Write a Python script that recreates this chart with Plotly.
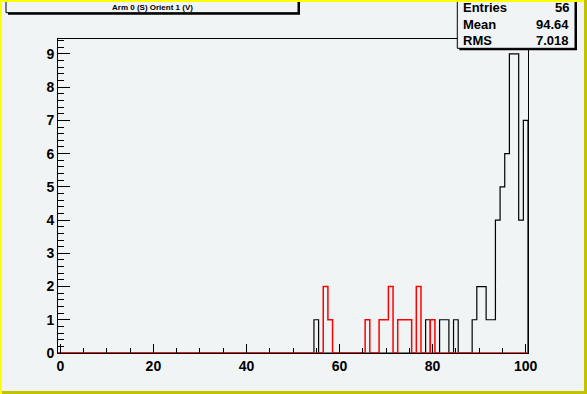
import plotly.graph_objects as go

# ---- data (bin centres are integers 0..100, bin width 1) ----
black_bins = [55, 79, 82, 83, 85, 89, 90, 91, 92, 93, 94, 95, 96, 97, 98, 99, 100]
black_counts = [1, 1, 1, 1, 1, 1, 2, 2, 1, 1, 4, 5, 6, 9, 9, 4, 7]
red_bins = [57, 58, 66, 69, 70, 71, 73, 74, 75, 77, 80]
red_counts = [2, 1, 1, 1, 1, 2, 1, 1, 1, 2, 1]
x_ticks = [0, 20, 40, 60, 80, 100]
y_ticks = [0, 1, 2, 3, 4, 5, 6, 7, 8, 9]
title_text = "Arm 0 (S) Orient 1 (V)"
stats_labels = ["Entries", "Mean", "RMS"]
stats_values = ["56", "94.64", "7.018"]

NB = 101
XMIN, XMAX = -0.5, 100.5
YMAX = 9.45


def step_xy(bins, counts):
    full = [0] * NB
    for b, c in zip(bins, counts):
        full[b] = c
    xs = [XMIN + i for i in range(NB + 1)]
    ys = full + [0]
    return xs, ys


W, H = 587, 394
L, R, T, B = 58, 59, 39, 41
pw, ph = W - L - R, H - T - B
BG = "#f0f4f5"
FONT = "Liberation Sans"


def px(xp):
    return (xp - L) / pw


def py(yp):
    return (H - B - yp) / ph


fig = go.Figure()
bx, by = step_xy(black_bins, black_counts)
rx, ry = step_xy(red_bins, red_counts)
fig.add_trace(go.Scatter(x=bx, y=by, mode="lines", line=dict(shape="hv", color="black", width=1.2),
                         hoverinfo="skip", showlegend=False))
fig.add_trace(go.Scatter(x=rx, y=ry, mode="lines", line=dict(shape="hv", color="#ff0000", width=1.5),
                         hoverinfo="skip", showlegend=False))

shapes = []


def rect(x0, y0, x1, y1, fill, line_color=None, lw=0):
    shapes.append(dict(type="rect", xref="paper", yref="paper",
                       x0=px(x0), x1=px(x1), y0=py(y1), y1=py(y0),
                       fillcolor=fill, layer="above",
                       line=dict(color=line_color or fill, width=lw)))


# title box with shadow
rect(8, -2, 300, 14.7, "black")
rect(6, -4, 298, 12.7, BG, "black", 1)
# stats box with shadow
rect(459.3, -2, 577, 50.3, "black")
rect(457.3, -4, 575, 48.3, BG, "black", 1)
# canvas bevel border
rect(0, 0, 2, H, "#ffff00")
rect(0, 0, W, 2, "#ffff00")
rect(W - 3, 0, W, H, "#c2c200")
rect(2, H - 3, W, H, "#c2c200")

annotations = [dict(xref="paper", yref="paper", x=px(152), y=py(7.5), text="<b>%s</b>" % title_text,
                    showarrow=False, xanchor="center", yanchor="middle",
                    font=dict(family=FONT, size=8, color="black"))]
rows_y = [7.3, 24.3, 40.7]
for lab, val, yy in zip(stats_labels, stats_values, rows_y):
    annotations.append(dict(xref="paper", yref="paper", x=px(461), y=py(yy), text="<b>%s</b>" % lab,
                            showarrow=False, xanchor="left", yanchor="middle",
                            font=dict(family=FONT, size=13, color="black")))
    annotations.append(dict(xref="paper", yref="paper", x=px(571), y=py(yy), text="<b>%s</b>" % val,
                            showarrow=False, xanchor="right", yanchor="middle",
                            font=dict(family=FONT, size=13, color="black")))

fig.update_layout(
    width=W, height=H,
    margin=dict(l=L, r=R, t=T, b=B, pad=0),
    paper_bgcolor=BG, plot_bgcolor=BG,
    shapes=shapes, annotations=annotations,
    hovermode=False,
    xaxis=dict(range=[XMIN, XMAX], tickmode="array", tickvals=x_ticks, ticktext=[str(v) for v in x_ticks],
               ticks="inside", ticklen=9, tickwidth=1, tickcolor="black",
               minor=dict(dtick=5, tick0=0, ticks="inside", ticklen=5, tickcolor="black", showgrid=False),
               showline=True, linecolor="black", linewidth=1, mirror=True,
               showgrid=False, zeroline=False,
               tickfont=dict(family=FONT, size=14, color="black", weight="bold")),
    yaxis=dict(range=[0, YMAX], tickmode="array", tickvals=y_ticks, ticktext=[str(v) for v in y_ticks],
               ticks="inside", ticklen=12, tickwidth=1, tickcolor="black",
               minor=dict(dtick=0.2, tick0=0, ticks="inside", ticklen=6, tickcolor="black", showgrid=False),
               showline=True, linecolor="black", linewidth=1, mirror=True,
               showgrid=False, zeroline=False,
               tickfont=dict(family=FONT, size=14, color="black", weight="bold")),
)

fig.write_html("out.html", config={"displayModeBar": False, "staticPlot": True},
               post_script="document.body.style.margin='0px';document.body.style.overflow='hidden';")
